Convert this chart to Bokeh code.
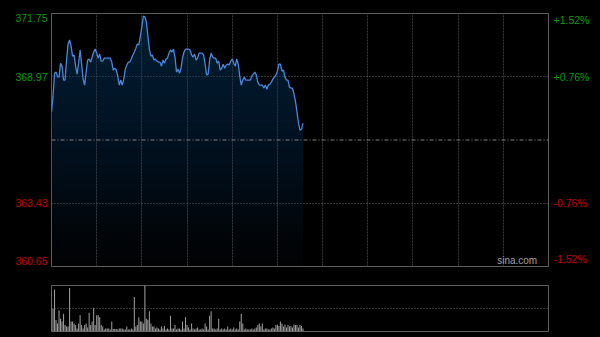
import numpy as np
from bokeh.plotting import figure
from bokeh.models import Range1d, Span, Grid, FixedTicker
from bokeh.core.properties import value
from bokeh.layouts import column, row
from bokeh.embed import file_html
from bokeh.resources import INLINE

# ---------------- data ----------------
prev_close = 366.20
price_ticks = [371.75, 368.97, 363.43, 360.65]
price_tick_labels = ["371.75", "368.97", "363.43", "360.65"]
pct_tick_labels = ["+1.52%", "+0.76%", "-0.76%", "-1.52%"]
session_minutes = 330
grid_minutes = [30, 60, 90, 120, 150, 180, 210, 240, 270, 300]

price = [
    367.43, 368.09, 369.12, 369.19, 368.97, 368.97, 369.56, 369.44, 368.83, 368.83,
    369.71, 370.41, 370.59, 370.32, 369.88, 369.93, 369.44, 369.09, 369.57, 370.15,
    369.53, 368.87, 368.61, 369.18, 369.71, 369.75, 369.62, 369.84, 370.06, 370.19,
    370.01, 369.79, 369.97, 369.66, 369.66, 369.79, 369.79, 369.79, 369.79, 369.79,
    369.62, 369.27, 369.35, 369.27, 369.00, 368.61, 368.83, 368.61, 368.87, 369.31,
    369.49, 369.62, 369.62, 369.75, 369.93, 370.06, 370.23, 370.41, 370.37, 370.76,
    371.16, 371.64, 371.60, 371.38, 370.76, 370.19, 369.88, 369.93, 369.71, 369.75,
    369.66, 369.62, 369.62, 369.44, 369.71, 369.57, 369.75, 369.79, 370.01, 370.15,
    370.06, 370.19, 369.84, 369.18, 369.31, 369.13, 369.35, 369.79, 370.06, 370.19,
    370.19, 370.19, 370.15, 369.93, 369.84, 369.97, 369.71, 369.79, 370.01, 370.01,
    370.01, 369.93, 369.53, 369.05, 369.09, 369.71, 370.01, 369.84, 369.79, 369.79,
    369.57, 369.66, 369.27, 369.35, 369.53, 369.35, 369.49, 369.53, 369.49, 369.66,
    369.75, 369.57, 369.44, 369.75, 369.53, 369.00, 368.61, 368.83, 368.96, 368.83,
    368.83, 368.83, 368.83, 369.00, 369.09, 369.18, 369.05, 368.74, 368.61, 368.61,
    368.61, 368.48, 368.61, 368.43, 368.61, 368.65, 368.74, 368.87, 368.96, 369.05,
    369.22, 369.53, 369.53, 369.22, 369.27, 368.96, 368.83, 368.83, 368.52, 368.48,
    368.48, 368.21, 367.90, 367.42, 366.94, 366.63, 366.67, 366.94,
]

volume = [
    41.5, 23, 42.5, 11.5, 8, 21.5, 13, 10, 18, 6.5,
    5, 5, 44, 10, 10, 8, 6.5, 3, 8, 16.5,
    6.5, 3, 6.5, 8, 4, 19, 6.5, 10, 24, 6.5,
    16.5, 16.5, 14.5, 6.5, 5, 2, 3, 3, 3, 2,
    10, 2.5, 2.5, 2.5, 2, 3, 3, 3, 2, 2,
    5, 2, 2, 3, 2, 35, 5, 6.5, 14.5, 10,
    10, 8, 46.5, 13, 12, 20.5, 8, 5, 5, 3,
    4, 3, 2, 5, 3, 5.5, 2, 3, 2, 16,
    3, 3, 6.5, 2, 3, 3, 2, 10, 3, 14.5,
    6.5, 4, 2, 8, 3, 2, 3, 4, 2, 2,
    3, 2, 8, 5, 2, 16, 20.5, 3, 3, 2,
    3, 13, 2, 3, 2, 3, 2, 5, 2, 3,
    2, 4, 2, 3, 2, 10, 18, 8, 2, 3,
    2, 2, 2, 3, 2, 3, 4, 6.5, 8, 5,
    8, 2, 3, 3, 2, 2, 3, 4, 3, 6.5,
    7, 5.5, 10, 8, 5, 7, 4, 6.5, 5, 5.5,
    4, 7, 6.5, 6.5, 4, 6.5, 5.5, 3,
]

minute = list(range(len(price)))

# ---------------- styling ----------------
FONT = "Liberation Sans"
GREEN = "#0c9a0c"
RED = "#c40000"
LINE_BLUE = "#4b87dc"
FRAME = "#5e5e5e"

y_lo, y_hi = price_ticks[-1], price_ticks[0]
x_range = Range1d(0, session_minutes)
y_range = Range1d(y_lo, y_hi)

TOP, BOTTOM, H = 13, 10, 276


def side_fig(w):
    f = figure(width=w, height=H, x_range=Range1d(0, w), y_range=y_range,
               output_backend="svg", toolbar_location=None,
               x_axis_location=None, y_axis_location=None,
               min_border_left=0, min_border_right=0,
               min_border_top=TOP, min_border_bottom=BOTTOM,
               background_fill_color="black", border_fill_color="black",
               outline_line_color=None)
    f.xgrid.visible = False
    f.ygrid.visible = False
    return f


p = figure(
    width=499, height=H,
    x_range=x_range, y_range=y_range,
    output_backend="svg", toolbar_location=None,
    x_axis_location=None, y_axis_location=None,
    min_border_left=1, min_border_right=1, min_border_top=TOP, min_border_bottom=BOTTOM,
    background_fill_color="black", border_fill_color="black",
    outline_line_color=FRAME, outline_line_width=1,
)
p.xgrid.visible = False
p.ygrid.visible = False

# gradient-like area fill under the price line (stacked translucent layers)
price_arr = np.array(price)
levels = np.linspace(y_lo, y_hi, 31)[:-1]
for lv in levels:
    p.varea(x=minute, y1=lv, y2=np.maximum(price_arr, lv),
            fill_color="#2b3f6a", fill_alpha=0.028)

# grid lines
p.add_layout(Grid(dimension=0, ticker=FixedTicker(ticks=grid_minutes),
                  grid_line_color="#3a3a3a", grid_line_dash="2 1", grid_line_width=1))
p.add_layout(Grid(dimension=1, ticker=FixedTicker(ticks=[price_ticks[1], price_ticks[2]]),
                  grid_line_color="#6a6a6a", grid_line_dash="1 2", grid_line_width=1))
p.add_layout(Span(location=prev_close, dimension="width", line_color="#808080",
                  line_dash="4 2 1 2", line_width=1))

p.line(minute, price, line_color=LINE_BLUE, line_width=1.3)

p.text(x=[322.5], y=[y_lo], text=["sina.com"], text_align="right", text_baseline="bottom",
       text_font=value(FONT), text_font_size=value("10px"), text_color="#a0a0a0", y_offset=-1)

# tick labels (left price / right percent)
left = side_fig(50)
right = side_fig(51)
baselines = ["top", "middle", "middle", "bottom"]
offsets = [0, 0, 0, -2]
colors = [GREEN, GREEN, RED, RED]
for t, lab, pct, bl, off, c in zip(price_ticks, price_tick_labels, pct_tick_labels,
                                    baselines, offsets, colors):
    left.text(x=[47], y=[t], text=[lab], text_align="right", text_baseline=bl, y_offset=off,
              text_font=value(FONT), text_font_size=value("10.5px"), text_color=c)
    right.text(x=[4], y=[t], text=[pct], text_align="left", text_baseline=bl, y_offset=off,
               text_font=value(FONT), text_font_size=value("10.5px"), text_color=c)

# ---------------- volume panel ----------------
vmax = max(volume)
pv = figure(
    width=600, height=61,
    x_range=x_range, y_range=Range1d(0, vmax),
    output_backend="svg", toolbar_location=None,
    x_axis_location=None, y_axis_location=None,
    min_border_left=51, min_border_right=52, min_border_top=9, min_border_bottom=6,
    background_fill_color="black", border_fill_color="black",
    outline_line_color=FRAME, outline_line_width=1,
)
pv.xgrid.visible = False
pv.ygrid.visible = False
pv.add_layout(Grid(dimension=1, ticker=FixedTicker(ticks=[vmax / 2]),
                   grid_line_color="#6a6a6a", grid_line_dash="1 2", grid_line_width=1))
pv.vbar(x=minute, top=volume, width=0.7, fill_color="#9a9a9a", line_color=None)

layout = column(row(left, p, right, spacing=0), pv, spacing=0,
                styles={"background-color": "black"})
open("out.html", "w").write(file_html(layout, INLINE))
